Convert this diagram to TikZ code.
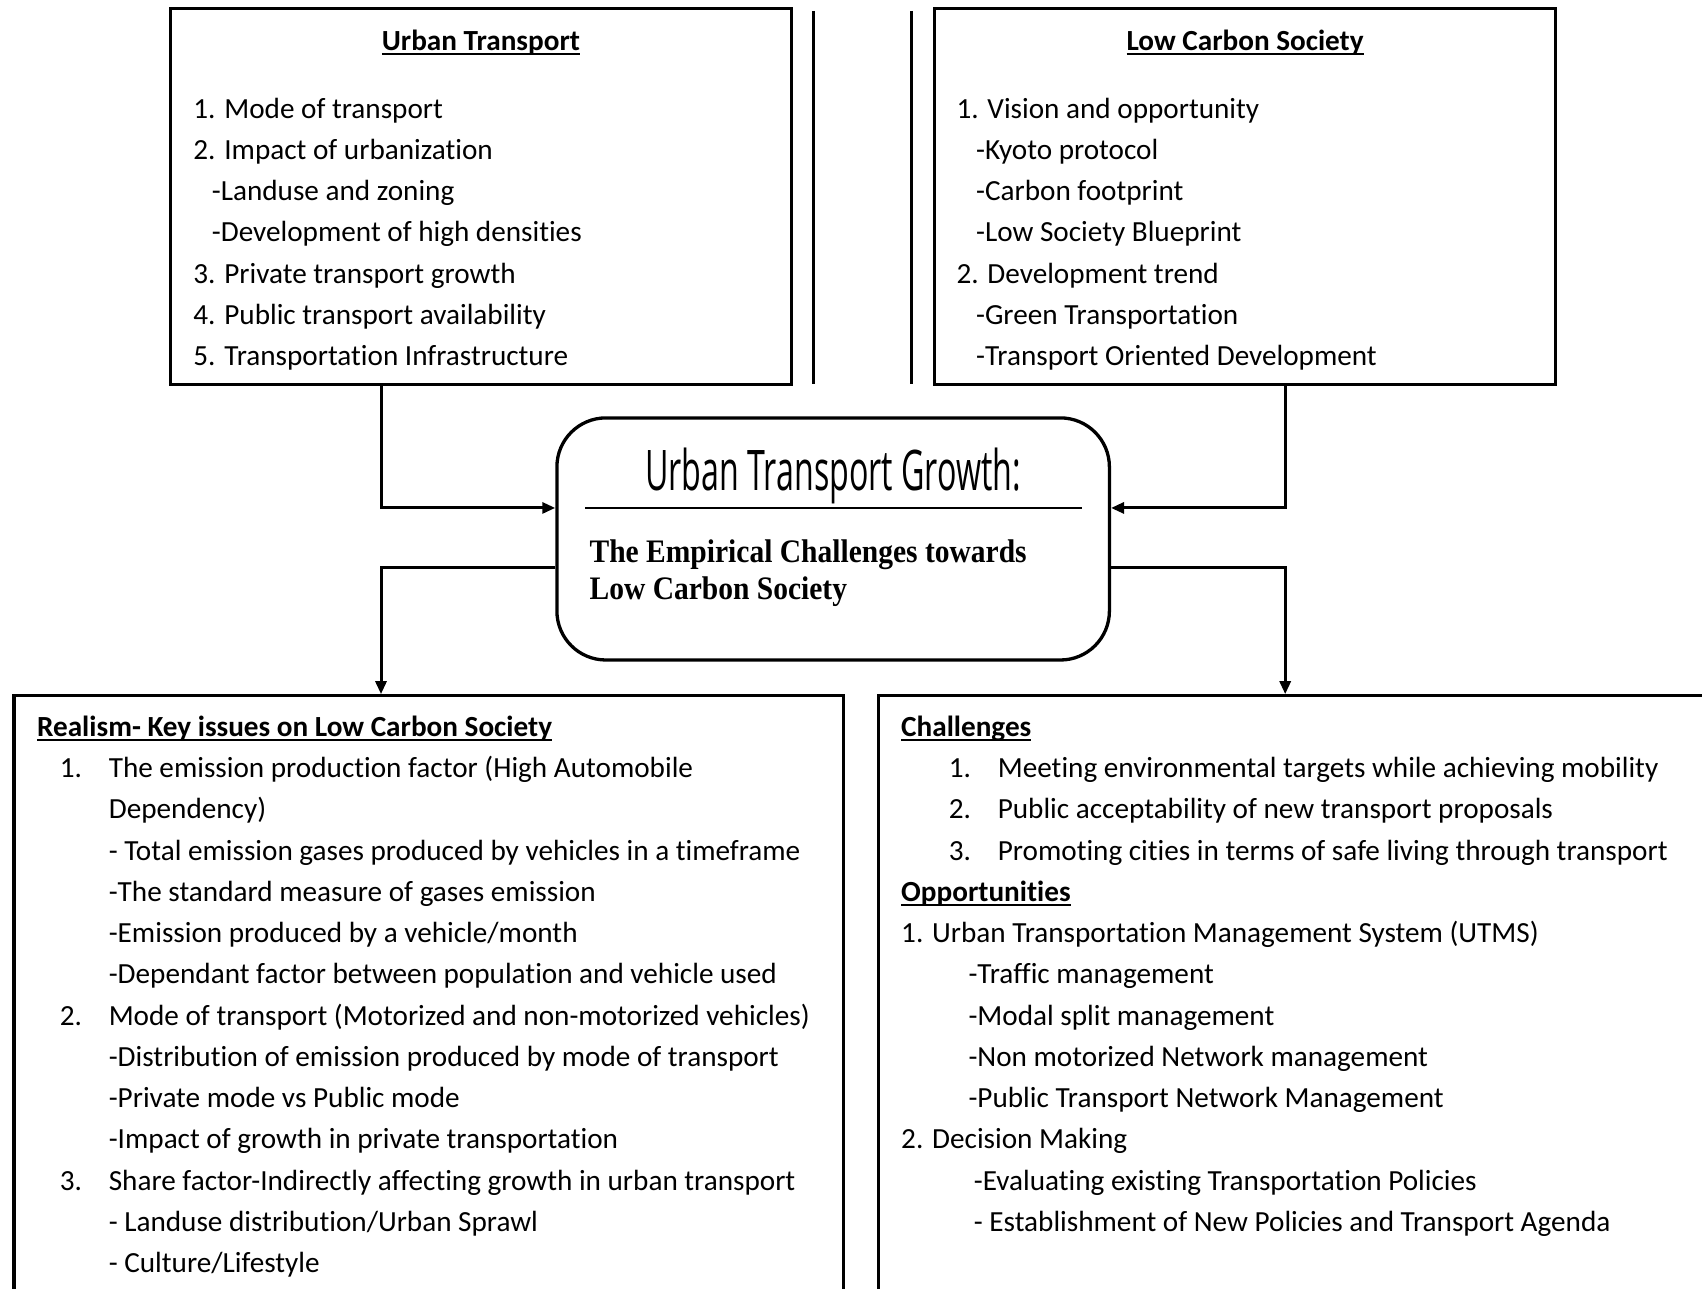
\documentclass[tikz,border=0pt]{standalone}
\usepackage{fontspec}
\setmainfont{Carlito}[Ligatures=NoCommon]
\newfontfamily\titlefont[FakeStretch=0.575]{Open Sans}
\newfontfamily\subfont[FakeStretch=0.90]{Liberation Serif}
\usetikzlibrary{arrows.meta,calc}
\newcommand\myul[1]{\sbox0{#1}\rlap{\rule[-4.5pt]{\wd0}{2pt}}\usebox0}
\newcommand\nb[2]{\makebox[48.9pt][l]{#1}#2}
\tikzset{
  txt/.style={anchor=base west, inner sep=0pt, font=\fontsize{29.2}{35}\selectfont},
  hd/.style={anchor=base, inner sep=0pt, font=\fontsize{29.2}{35}\selectfont\bfseries},
  box/.style={draw, line width=3.3pt, rectangle, inner sep=0pt},
  arr/.style={line width=3pt, -{Triangle[length=13pt,width=11pt]}},
}
\begin{document}
\begin{tikzpicture}[x=1pt,y=-1pt]
\useasboundingbox (0,0) rectangle (1702,1289);
% boxes
\node[box, minimum width=620.9pt, minimum height=375.6pt] (UT) at (480.85,196.5) {};
\node[box, minimum width=620.9pt, minimum height=375.6pt] (LC) at (1245.05,196.5) {};
\node[draw, line width=3.3pt, rounded corners=49pt, minimum width=552.5pt, minimum height=242.1pt, inner sep=0pt] (CG) at (833.15,538.95) {};
\node[box, minimum width=829.3pt, minimum height=614.2pt] (RK) at (428.75,1002.9) {};
\node[box, minimum width=841.8pt, minimum height=614.2pt] (CO) at (1299.1,1002.9) {};
% separator lines
\draw[line width=3pt] (813,10.9) -- (813,384);
\draw[line width=3pt] (911.8,10.9) -- (911.8,384);
% center box contents
\node[anchor=base, inner sep=0pt, font=\titlefont\fontsize{56}{60}\selectfont] (ttl) at (833.15,490.6) {Urban Transport Growth:};
\draw[line width=2pt] (585,508) -- (1082,508);
\node[anchor=base west, inner sep=0pt, font=\subfont\bfseries\fontsize{32.8}{36}\selectfont] (st1) at (589.4,562.6) {The Empirical Challenges towards};
\node[anchor=base west, inner sep=0pt, font=\subfont\bfseries\fontsize{32.8}{36}\selectfont] (st2) at (589.4,599.5) {Low Carbon Society};
% connectors
\draw[arr] ([xshift=-99.85pt]UT.south) |- ([yshift=31pt]CG.west);
\draw[arr] ([xshift=40.15pt]LC.south) |- ([yshift=31pt]CG.east);
\draw[arr] ([yshift=-28.7pt]CG.west) -| ([xshift=-47.75pt]RK.north);
\draw[arr] ([yshift=-28.7pt]CG.east) -| ([xshift=-13.9pt]CO.north);
% top-left text
\node[hd] (uth) at (480.9,50.8) {\myul{Urban Transport}};
\foreach \xx/\t [count=\i from 0] in {
  193.2/{1. Mode of transport},
  193.2/{2. Impact of urbanization},
  211.7/{-Landuse and zoning},
  211.7/{-Development of high densities},
  193.2/{3. Private transport growth},
  193.2/{4. Public transport availability},
  193.2/{5. Transportation Infrastructure}}
  \node[txt] (ut\i) at (\xx,{118.1+41.25*\i}) {\t};
% top-right text
\node[hd] (lch) at (1245.05,50.8) {\myul{Low Carbon Society}};
\foreach \xx/\t [count=\i from 0] in {
  956.3/{1. Vision and opportunity},
  975.9/{-Kyoto protocol},
  975.9/{-Carbon footprint},
  975.9/{-Low Society Blueprint},
  956.3/{2. Development trend},
  975.9/{-Green Transportation},
  975.9/{-Transport Oriented Development}}
  \node[txt] (lc\i) at (\xx,{118.1+41.25*\i}) {\t};
% bottom-left text
\node[txt, font=\fontsize{29.2}{35}\selectfont\bfseries] (rkh) at (36.9,736.3) {\myul{Realism- Key issues on Low Carbon Society}};
\foreach \xx/\t [count=\i from 1] in {
  59.7/{\nb{1.}{The emission production factor (High Automobile}},
  108.6/{Dependency)},
  108.6/{- Total emission gases produced by vehicles in a timeframe},
  108.6/{-The standard measure of gases emission},
  108.6/{-Emission produced by a vehicle/month},
  108.6/{-Dependant factor between population and vehicle used},
  59.7/{\nb{2.}{Mode of transport (Motorized and non-motorized vehicles)}},
  108.6/{-Distribution of emission produced by mode of transport},
  108.6/{-Private mode vs Public mode},
  108.6/{-Impact of growth in private transportation},
  59.7/{\nb{3.}{Share factor-Indirectly affecting growth in urban transport}},
  108.6/{- Landuse distribution/Urban Sprawl},
  108.6/{- Culture/Lifestyle}}
  \node[txt] (rk\i) at (\xx,{736.3+41.25*\i}) {\t};
% bottom-right text
\node[txt, font=\fontsize{29.2}{35}\selectfont\bfseries] (coh) at (901,736.3) {\myul{Challenges}};
\node[txt, font=\fontsize{29.2}{35}\selectfont\bfseries] (coo) at (901,{736.3+41.25*4}) {\myul{Opportunities}};
\foreach \xx/\t/\k [count=\i] in {
  948.7/{\nb{1.}{Meeting environmental targets while achieving mobility}}/1,
  948.7/{\nb{2.}{Public acceptability of new transport proposals}}/2,
  948.7/{\nb{3.}{Promoting cities in terms of safe living through transport}}/3,
  901/{1. Urban Transportation Management System (UTMS)}/5,
  968.3/{-Traffic management}/6,
  968.3/{-Modal split management}/7,
  968.3/{-Non motorized Network management}/8,
  968.3/{-Public Transport Network Management}/9,
  901/{2. Decision Making}/10,
  973.7/{-Evaluating existing Transportation Policies}/11,
  973.7/{- Establishment of New Policies and Transport Agenda}/12}
  \node[txt] (co\i) at (\xx,{736.3+41.25*\k}) {\t};
\end{tikzpicture}
\end{document}
